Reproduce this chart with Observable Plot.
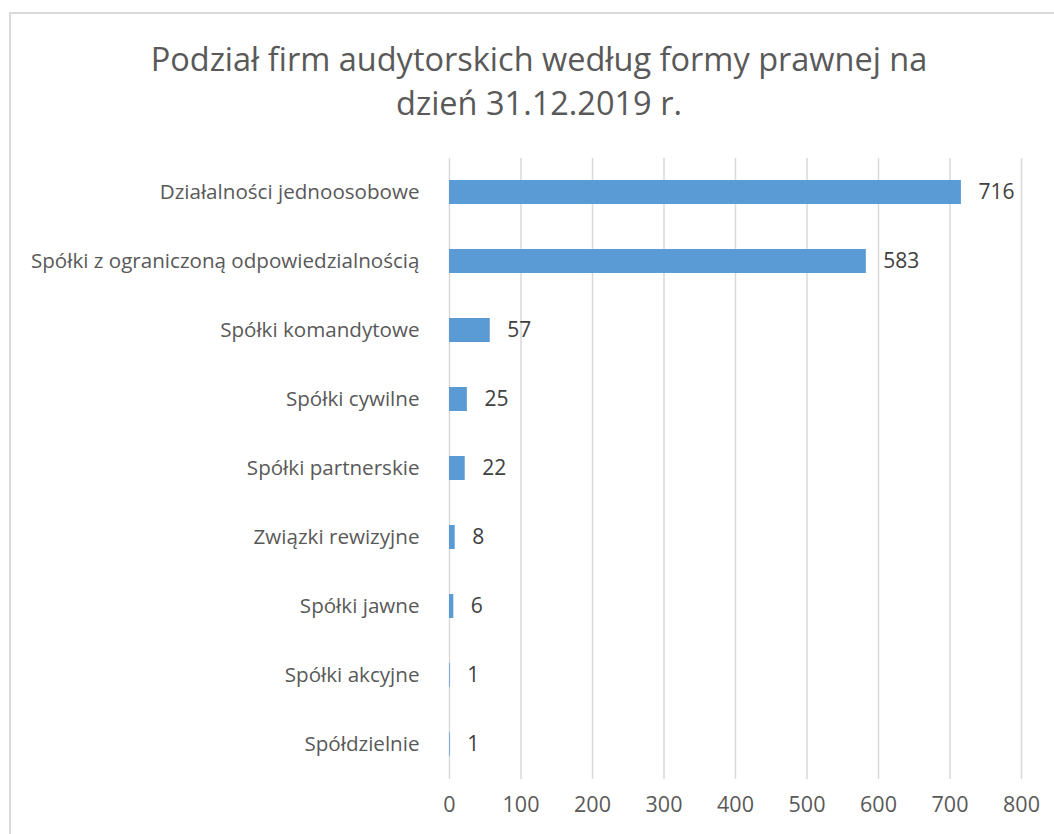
<!DOCTYPE html>
<html>
<head>
<meta charset="utf-8">
<script src="https://cdn.jsdelivr.net/npm/d3@7"></script>
<script src="https://cdn.jsdelivr.net/npm/@observablehq/plot@0.6"></script>
<style>
  html, body { margin: 0; padding: 0; background: #fff; }
  #wrap { position: relative; width: 1054px; height: 834px; overflow: hidden; }
  #frame { position: absolute; left: 9px; top: 12px; width: 1100px; height: 900px; border: 2px solid #d9d9d9; box-sizing: border-box; }
  #title { position: absolute; left: 0; top: 37px; width: 1078px; text-align: center; font-family: "Open Sans", sans-serif; font-size: 32.5px; line-height: 44px; color: #595959; }
  #chart { position: absolute; left: 0; top: 0; }
</style>
</head>
<body>
<div id="wrap">
  <div id="frame"></div>
  <div id="title">Podział firm audytorskich według formy prawnej na<br>dzień 31.12.2019 r.</div>
  <div id="chart"></div>
</div>
<script>
const categories = [
  "Działalności jednoosobowe",
  "Spółki z ograniczoną odpowiedzialnością",
  "Spółki komandytowe",
  "Spółki cywilne",
  "Spółki partnerskie",
  "Związki rewizyjne",
  "Spółki jawne",
  "Spółki akcyjne",
  "Spółdzielnie"
];
const values = [716, 583, 57, 25, 22, 8, 6, 1, 1];
const xTicks = [0, 100, 200, 300, 400, 500, 600, 700, 800];

const data = categories.map((c, i) => ({category: c, value: values[i]}));

const chart = Plot.plot({
  width: 1054,
  height: 834,
  marginLeft: 449,
  marginRight: 33,
  marginTop: 158,
  marginBottom: 55,
  style: {fontFamily: "Open Sans, sans-serif", fontSize: "20px", color: "#595959", background: "transparent"},
  x: {domain: [0, 800], ticks: xTicks, label: null},
  y: {domain: categories, paddingInner: 0.65, paddingOuter: 0.325, label: null},
  marks: [
    Plot.ruleX(xTicks, {stroke: "#d9d9d9", strokeWidth: 1.5, strokeOpacity: 1}),
    Plot.barX(data, {x: "value", y: "category", fill: "#5b9bd5"}),
    Plot.text(data, {x: "value", y: "category", text: d => String(d.value), textAnchor: "start", dx: 17, fill: "#404040", fontSize: 21}),
    Plot.axisY({tickSize: 0, tickPadding: 30, fontSize: 20.6, fill: "#595959", label: null}),
    Plot.axisX({ticks: xTicks, tickSize: 0, tickPadding: 17, fontSize: 21.5, fill: "#595959", label: null})
  ]
});
document.getElementById("chart").appendChild(chart);
</script>
</body>
</html>
